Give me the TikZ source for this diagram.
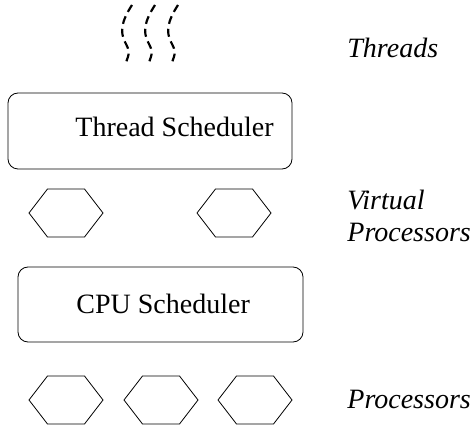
\documentclass[tikz,border=0pt]{standalone}
\usepackage{fontspec}
\setmainfont{Liberation Serif}
\begin{document}
\begin{tikzpicture}[
x=0.5pt, y=-0.5pt,
font=\fontsize{14}{16}\selectfont,
schedbox/.style={rectangle, rounded corners=5pt, draw, thin, inner sep=0pt},
layertext/.style={anchor=base west, inner sep=0pt, font=\fontsize{14}{16}\selectfont\itshape, align=left},
thread/.style={dash pattern=on 4pt off 2.5pt, line width=1.1pt},
hexa/.pic={\draw[thin] (-37,0) -- (-18.5,-24) -- (18.5,-24) -- (37,0) -- (18.5,24) -- (-18.5,24) -- cycle;},
]
\useasboundingbox (0,0) rectangle (474,426);
%threads
\foreach \t in {125,148,171}
  \draw[thread] (\t+7,5) .. controls (\t-4,22) and (\t-5,32) .. (\t,42) .. controls (\t+5,52) .. (\t,65);
%schedulers
\node[schedbox, minimum width=142pt, minimum height=38pt](tsched) at (150,131) {};
\node[anchor=base west, inner sep=0pt](tschedtext) at (75,137) {Thread Scheduler};
\node[schedbox, minimum width=142.5pt, minimum height=37.5pt](csched) at (160.5,304.5) {};
\node[anchor=base west, inner sep=0pt](cschedtext) at (76,313) {CPU Scheduler};
%virtual processors
\pic (vp1) at (66,213) {hexa};
\pic (vp2) at (234,213) {hexa};
%processors
\pic (p1) at (66,400) {hexa};
\pic (p2) at (161,400) {hexa};
\pic (p3) at (255,400) {hexa};
%layer names
\node[layertext](threads) at (347,58) {Threads};
\node[layertext](virtual) at (347,210) {Virtual};
\node[layertext](virtualp) at (347,242) {Processors};
\node[layertext](procs) at (347,408) {Processors};
\end{tikzpicture}
\end{document}
